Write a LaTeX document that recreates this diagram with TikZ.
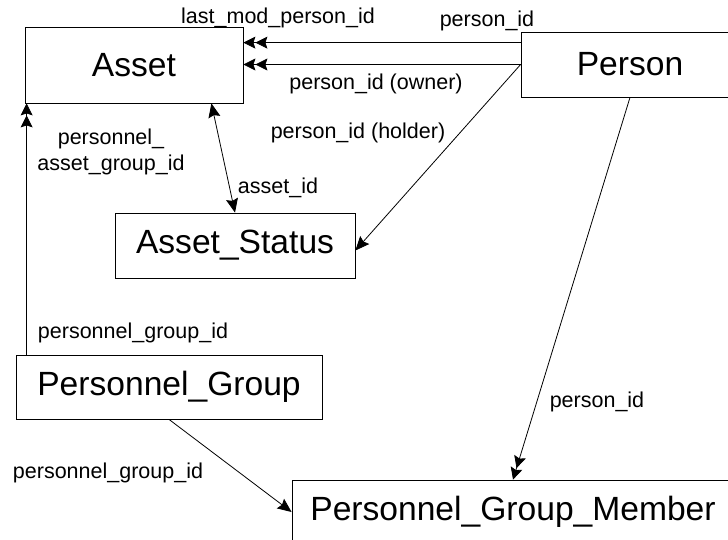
\documentclass[tikz,border=0pt]{standalone}
\usepackage{fontspec}
\setmainfont{Liberation Sans}
\usetikzlibrary{arrows.meta}

\begin{document}
\begin{tikzpicture}[x=1pt,y=-1pt,line width=0.8pt,
    table/.style={draw,inner sep=0pt,font=\fontsize{33.6}{40}\selectfont},
    lbl/.style={inner sep=0pt,font=\fontsize{21.5}{26}\selectfont},
    fk/.style={-{Stealth[length=14pt,width=12pt,inset=2pt]}},
    fkboth/.style={{Stealth[length=14pt,width=12pt,inset=2pt]}-{Stealth[length=14pt,width=12pt,inset=2pt]}},
    fkmany/.style={-{Stealth[length=12pt,width=12pt,inset=2pt] Stealth[length=12pt,width=12pt,inset=2pt]}}]
    \useasboundingbox (0,0) rectangle (728,539);

    \node[table,minimum width=218pt,minimum height=76pt] (Asset) at (134,65) {Asset};
    \node[table,minimum width=218pt,minimum height=65pt] (Person) at (630,64.5) {Person};
    \node[table,minimum width=240pt,minimum height=65pt] (Status) at (235,245.5) {Asset\_Status};
    \node[table,minimum width=306pt,minimum height=64pt] (Group) at (169,387) {Personnel\_Group};
    \node[table,minimum width=442pt,minimum height=64pt] (Member) at (513,512) {Personnel\_Group\_Member};

    \coordinate (lastmod) at ([yshift=-11pt]Person.north west);
    \coordinate (grpup) at ([xshift=2pt]Asset.south west);
    \draw[fkmany] (lastmod) -- (lastmod -| Asset.east);
    \draw[fkmany] (Person.west) -- (Person.west -| Asset.east);
    \draw[fkboth] ([xshift=-32pt]Asset.south east) -- (Status.north);
    \draw[fk] (Person.west) -- ([yshift=-5pt]Status.east);
    \draw[fkmany] (Person.south) -- (Member.north);
    \draw[fkmany] (grpup |- Group.north) -- (grpup);
    \draw[fk] (Group.south) -- (Member.west);

    \node[lbl] (lastmodLbl) at (278,18) {last\_mod\_person\_id};
    \node[lbl] (pidLbl) at (487,21) {person\_id};
    \node[lbl] (ownerLbl) at (376,84) {person\_id (owner)};
    \node[lbl] (holderLbl) at (358,133) {person\_id (holder)};
    \node[lbl,align=center] (pagLbl) at (111,152) {personnel\_\\asset\_group\_id};
    \node[lbl] (aidLbl) at (278,188) {asset\_id};
    \node[lbl] (pgLblA) at (133,333) {personnel\_group\_id};
    \node[lbl] (pgLblB) at (108,473) {personnel\_group\_id};
    \node[lbl] (pidLblB) at (597,402) {person\_id};
\end{tikzpicture}
\end{document}
